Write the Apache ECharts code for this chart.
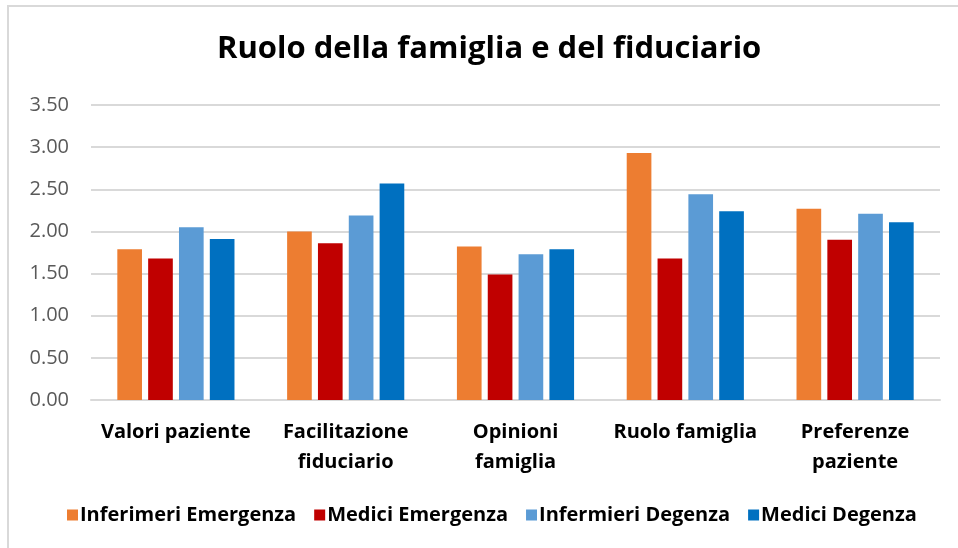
<!DOCTYPE html>
<html>
<head>
<meta charset="utf-8">
<script src="https://cdn.jsdelivr.net/npm/echarts@6/dist/echarts.min.js"></script>
<style>
html,body{margin:0;padding:0;background:#fff;}
#chart{width:958px;height:548px;}
</style>
</head>
<body>
<div id="chart"></div>
<script>
var categories = ['Valori paziente', 'Facilitazione\nfiduciario', 'Opinioni\nfamiglia', 'Ruolo famiglia', 'Preferenze\npaziente'];
var inferimeriEmergenza = [1.79, 2.00, 1.82, 2.93, 2.27];
var mediciEmergenza = [1.68, 1.86, 1.49, 1.68, 1.90];
var infermieriDegenza = [2.05, 2.19, 1.73, 2.44, 2.21];
var mediciDegenza = [1.91, 2.57, 1.79, 2.24, 2.11];
var yTicks = [0, 0.5, 1, 1.5, 2, 2.5, 3, 3.5];

var myChart = echarts.init(document.getElementById('chart'));
var font = 'Open Sans';

var option = {
    backgroundColor: '#fff',
    animation: false,
    title: {
        text: 'Ruolo della famiglia e del fiduciario',
        left: 212,
        top: 29,
        textStyle: { fontFamily: font, fontWeight: 'bold', fontSize: 31, color: '#000' }
    },
    color: ['#ED7D31', '#C00000', '#5B9BD5', '#0070C0'],
    legend: {
        bottom: 18,
        left: 62,
        itemWidth: 11,
        itemHeight: 11,
        itemGap: 18,
        icon: 'rect',
        textStyle: { fontFamily: font, fontWeight: 'bold', fontSize: 20, color: '#000', padding: [0, 0, 0, -3] }
    },
    grid: { left: 91, right: 18, top: 105, bottom: 148 },
    graphic: [{
        type: 'rect',
        shape: { x: 8, y: 6, width: 960, height: 560 },
        style: { fill: 'none', stroke: '#d9d9d9', lineWidth: 2 },
        silent: true
    }],
    xAxis: {
        type: 'category',
        data: categories,
        axisLine: { lineStyle: { color: '#d9d9d9', width: 2 } },
        axisTick: { show: false },
        axisLabel: {
            fontFamily: font, fontWeight: 'bold', fontSize: 20, color: '#000',
            lineHeight: 30, margin: 17, interval: 0
        }
    },
    yAxis: {
        type: 'value',
        min: yTicks[0],
        max: yTicks[yTicks.length - 1],
        interval: 0.5,
        axisLine: { show: false },
        axisTick: { show: false },
        splitLine: { lineStyle: { color: '#d9d9d9', width: 2 } },
        axisLabel: {
            fontFamily: font, fontSize: 20, color: '#595959', margin: 22,
            formatter: function (v) { return v.toFixed(2); }
        }
    },
    series: [
        { name: 'Inferimeri Emergenza', type: 'bar', data: inferimeriEmergenza, barGap: '25%', barCategoryGap: '31%' },
        { name: 'Medici Emergenza', type: 'bar', data: mediciEmergenza },
        { name: 'Infermieri Degenza', type: 'bar', data: infermieriDegenza },
        { name: 'Medici Degenza', type: 'bar', data: mediciDegenza }
    ]
};

myChart.setOption(option);
</script>
</body>
</html>
